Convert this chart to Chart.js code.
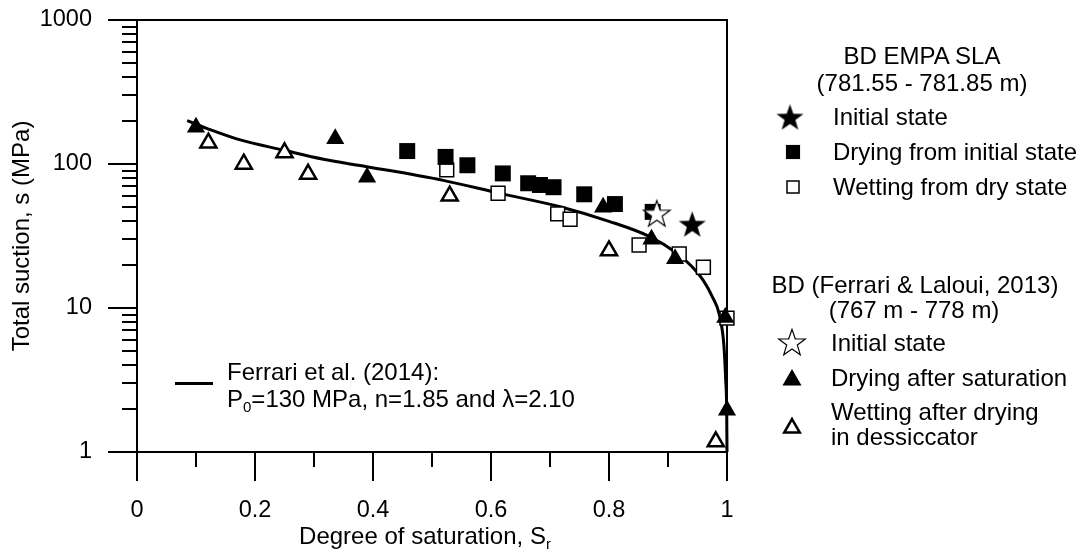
<!DOCTYPE html>
<html>
<head>
<meta charset="utf-8">
<script src="https://cdn.jsdelivr.net/npm/chart.js@4.4.1/dist/chart.umd.min.js"></script>
<style>
  body { margin: 0; background: #fff; }
  #wrap { position: relative; width: 1083px; height: 553px; font-family: 'Liberation Sans', Arial, sans-serif; font-size: 24px; color: #000; }
  #wrap > canvas#suction { position: absolute; left: 0; top: 0; }
  .t { position: absolute; white-space: nowrap; line-height: 27px; }
  .c { text-align: center; }
  .mk { position: absolute; width: 32px; height: 32px; }
  sub { font-size: 15px; line-height: 0; vertical-align: -5px; }
  #fitLine { position: absolute; left: 175px; top: 382px; width: 38px; height: 3px; background: #000; }
</style>
</head>
<body>
<div id="wrap">
  <canvas id="suction" width="1083" height="553"></canvas>

  <div id="fitLine"></div>
  <div class="t" style="left:227px; top:358px;">Ferrari et al. (2014):</div>
  <div class="t" style="left:227px; top:385px;">P<sub>0</sub>=130 MPa, n=1.85 and &lambda;=2.10</div>

  <div class="t c" style="left:225px; width:400px; top:522px;">Degree of saturation, S<sub>r</sub></div>

  <div class="t c" style="left:772px; width:300px; top:42px;">BD EMPA SLA</div>
  <div class="t c" style="left:772px; width:300px; top:69px;">(781.55 - 781.85 m)</div>
  <div class="t" style="left:833px; top:103px;">Initial state</div>
  <div class="t" style="left:833px; top:138px;">Drying from initial state</div>
  <div class="t" style="left:833px; top:173px;">Wetting from dry state</div>

  <div class="t c" style="left:765px; width:300px; top:271px;">BD (Ferrari &amp; Laloui, 2013)</div>
  <div class="t c" style="left:764px; width:300px; top:296px;">(767 m - 778 m)</div>
  <div class="t" style="left:831px; top:329px;">Initial state</div>
  <div class="t" style="left:831px; top:364px;">Drying after saturation</div>
  <div class="t" style="left:831px; top:398px;">Wetting after drying</div>
  <div class="t" style="left:831px; top:423px;">in dessiccator</div>
</div>

<script>
// BD EMPA SLA (781.55 - 781.85 m)
const empaInitialSr = [0.941];
const empaInitialS = [38.3];
const empaDryingSr = [0.458, 0.523, 0.56, 0.62, 0.663, 0.683, 0.706, 0.758, 0.81, 0.874];
const empaDryingS = [123, 112, 98, 86, 73.5, 71.5, 69, 61.6, 52.7, 46.5];
const empaWettingSr = [0.525, 0.612, 0.713, 0.734, 0.851, 0.919, 0.96, 1.0];
const empaWettingS = [91, 62.6, 45, 41.3, 27.4, 23.7, 19.2, 8.5];

// BD (Ferrari & Laloui, 2013) (767 m - 778 m)
const flInitialSr = [0.881];
const flInitialS = [45.5];
const flDryingSr = [0.10, 0.336, 0.39, 0.79, 0.872, 0.912, 0.997, 1.0];
const flDryingS = [180, 150, 81, 50, 30, 22, 8.6, 1.95];
const flWettingSr = [0.121, 0.181, 0.25, 0.29, 0.53, 0.80, 0.981];
const flWettingS = [140, 100, 120, 85, 60, 25, 1.18];

// retention curve, Ferrari et al. (2014)
const fitSr = [0.085, 0.118, 0.175, 0.248, 0.316, 0.375, 0.519, 0.615, 0.717, 0.80, 0.869, 0.915, 0.94, 0.96, 0.975, 0.987, 0.9949, 0.9977, 0.9995, 1.0];
const fitS = [200, 177, 147, 125, 108, 98, 77, 62.5, 50.5, 40, 31.3, 24, 19.5, 15.5, 12, 9, 5.4, 3.2, 1.9, 1.0];

// axes
const xMajorTicks = [0, 0.2, 0.4, 0.6, 0.8, 1];
const xTickLabels = ['0', '0.2', '0.4', '0.6', '0.8', '1'];
const xMinorTicks = [0.1, 0.3, 0.5, 0.7, 0.9];
const yMajorTicks = [1, 10, 100, 1000];
const yTickLabels = ['1', '10', '100', '1000'];
const yMinorTicks = [2, 3, 4, 5, 6, 7, 8, 9, 20, 30, 40, 50, 60, 70, 80, 90, 200, 300, 400, 500, 600, 700, 800, 900];

const FAMILY = "'Liberation Sans', Arial, sans-serif";
const TICK_FONT = { family: FAMILY, size: 23.5 };
const TITLE_FONT = { family: FAMILY, size: 24 };

function toPoints(xs, ys) {
  return xs.map((v, i) => ({ x: v, y: ys[i] }));
}

function makeStar(outer, fill, lineWidth) {
  const size = Math.ceil(outer * 2 + 4);
  const c = document.createElement('canvas');
  c.width = size;
  c.height = size;
  const g = c.getContext('2d');
  const cx = size / 2, cy = size / 2 + outer * 0.095;
  g.beginPath();
  for (let i = 0; i < 10; i++) {
    const r = i % 2 ? outer * 0.4 : outer;
    const a = -Math.PI / 2 + i * Math.PI / 5;
    g.lineTo(cx + r * Math.cos(a), cy + r * Math.sin(a));
  }
  g.closePath();
  g.fillStyle = fill;
  g.fill();
  if (lineWidth) {
    g.lineWidth = lineWidth;
    g.strokeStyle = '#000';
    g.stroke();
  }
  return c;
}

const starFilled = makeStar(14.2, '#000', 0);
const starOpen = makeStar(14, '#fff', 1.2);

const styles = {
  empaInitial: { pointStyle: starFilled, radius: 14, bg: '#000', bw: 0 },
  empaDrying: { pointStyle: 'rect', radius: 11.3, bg: '#000', bw: 0 },
  empaWetting: { pointStyle: 'rect', radius: 9.8, bg: '#fff', bw: 1.5 },
  flInitial: { pointStyle: starOpen, radius: 14, bg: '#fff', bw: 0 },
  flDrying: { pointStyle: 'triangle', radius: 10.5, bg: '#000', bw: 0 },
  flWetting: { pointStyle: 'triangle', radius: 9.3, bg: '#fff', bw: 2.5 }
};

function markerSet(label, xs, ys, st, order) {
  return {
    label: label,
    data: toPoints(xs, ys),
    showLine: false,
    pointStyle: st.pointStyle,
    pointRadius: st.radius,
    pointBackgroundColor: st.bg,
    pointBorderColor: '#000',
    pointBorderWidth: st.bw,
    clip: false,
    order: order
  };
}

// frame and tick marks, drawn under the markers
const frameTicks = {
  id: 'frameTicks',
  beforeDatasetsDraw(chart) {
    const { ctx, chartArea: a, scales: { x, y } } = chart;
    ctx.save();
    ctx.strokeStyle = '#000';
    ctx.lineWidth = 2;
    ctx.strokeRect(a.left, a.top, a.right - a.left, a.bottom - a.top);
    ctx.beginPath();
    x.ticks.forEach(t => {
      const px = Math.round(x.getPixelForValue(t.value));
      const len = xMajorTicks.includes(t.value) ? 29 : 15;
      ctx.moveTo(px, a.bottom);
      ctx.lineTo(px, a.bottom + len);
    });
    y.ticks.forEach(t => {
      const py = Math.round(y.getPixelForValue(t.value));
      const len = yMajorTicks.includes(t.value) ? 29 : 15;
      ctx.moveTo(a.left, py);
      ctx.lineTo(a.left - len, py);
    });
    ctx.stroke();
    ctx.restore();
  }
};

new Chart(document.getElementById('suction'), {
  type: 'scatter',
  data: {
    datasets: [
      markerSet('BD EMPA SLA: Initial state', empaInitialSr, empaInitialS, styles.empaInitial, 1),
      markerSet('BD (Ferrari & Laloui, 2013): Initial state', flInitialSr, flInitialS, styles.flInitial, 0),
      markerSet('Drying after saturation', flDryingSr, flDryingS, styles.flDrying, 2),
      markerSet('Drying from initial state', empaDryingSr, empaDryingS, styles.empaDrying, 3),
      markerSet('Wetting from dry state', empaWettingSr, empaWettingS, styles.empaWetting, 4),
      markerSet('Wetting after drying in dessiccator', flWettingSr, flWettingS, styles.flWetting, 5),
      {
        label: 'Ferrari et al. (2014)',
        data: toPoints(fitSr, fitS),
        showLine: true,
        borderColor: '#000',
        borderWidth: 3,
        pointRadius: 0,
        cubicInterpolationMode: 'monotone',
        clip: false,
        order: 6
      }
    ]
  },
  options: {
    responsive: false,
    animation: false,
    events: [],
    layout: { padding: { left: 0, right: 356, top: 20, bottom: 0 } },
    plugins: { legend: { display: false }, tooltip: { enabled: false } },
    scales: {
      x: {
        type: 'linear',
        min: 0,
        max: 1,
        grid: { display: false },
        border: { display: false },
        afterBuildTicks: s => {
          s.ticks = [...xMajorTicks, ...xMinorTicks].sort((a, b) => a - b).map(v => ({ value: v }));
        },
        afterFit: s => {
          s.height = 101;
          s.paddingLeft = 0;
          s.paddingRight = 0;
        },
        ticks: {
          autoSkip: false,
          maxRotation: 0,
          padding: 36,
          color: '#000',
          font: TICK_FONT,
          callback: v => {
            const i = xMajorTicks.indexOf(v);
            return i >= 0 ? xTickLabels[i] : '';
          }
        }
      },
      y: {
        type: 'logarithmic',
        min: 1,
        max: 1000,
        grid: { display: false },
        border: { display: false },
        afterBuildTicks: s => {
          s.ticks = [...yMajorTicks, ...yMinorTicks].sort((a, b) => a - b).map(v => ({ value: v }));
        },
        afterFit: s => {
          s.width = 137;
          s.paddingTop = 0;
          s.paddingBottom = 0;
        },
        title: {
          display: true,
          text: 'Total suction, s (MPa)',
          color: '#000',
          font: TITLE_FONT,
          padding: { top: 8, bottom: 0 }
        },
        ticks: {
          autoSkip: false,
          padding: 37,
          color: '#000',
          font: TICK_FONT,
          callback: v => {
            const i = yMajorTicks.indexOf(v);
            return i >= 0 ? yTickLabels[i] : '';
          }
        }
      }
    }
  },
  plugins: [frameTicks]
});

// legend symbols, same marker styles as the plotted series
const legendMarks = [
  { st: styles.empaInitial, r: 13.7, cx: 790, cy: 117 },
  { st: styles.empaDrying, r: 10, cx: 793, cy: 152 },
  { st: styles.empaWetting, r: 8.5, cx: 793, cy: 187 },
  { st: styles.flInitial, r: 13.7, cx: 792, cy: 342 },
  { st: styles.flDrying, r: 11, cx: 792, cy: 380 },
  { st: styles.flWetting, r: 9, cx: 792, cy: 428 }
];

const wrap = document.getElementById('wrap');
legendMarks.forEach(m => {
  const c = document.createElement('canvas');
  c.className = 'mk';
  c.width = 32;
  c.height = 32;
  c.style.left = (m.cx - 16) + 'px';
  c.style.top = (m.cy - 16) + 'px';
  const g = c.getContext('2d');
  g.fillStyle = m.st.bg;
  g.strokeStyle = '#000';
  g.lineWidth = m.st.bw;
  Chart.helpers.drawPoint(g, { pointStyle: m.st.pointStyle, radius: m.r, rotation: 0, borderWidth: m.st.bw }, 16, 16);
  wrap.appendChild(c);
});
</script>
</body>
</html>
